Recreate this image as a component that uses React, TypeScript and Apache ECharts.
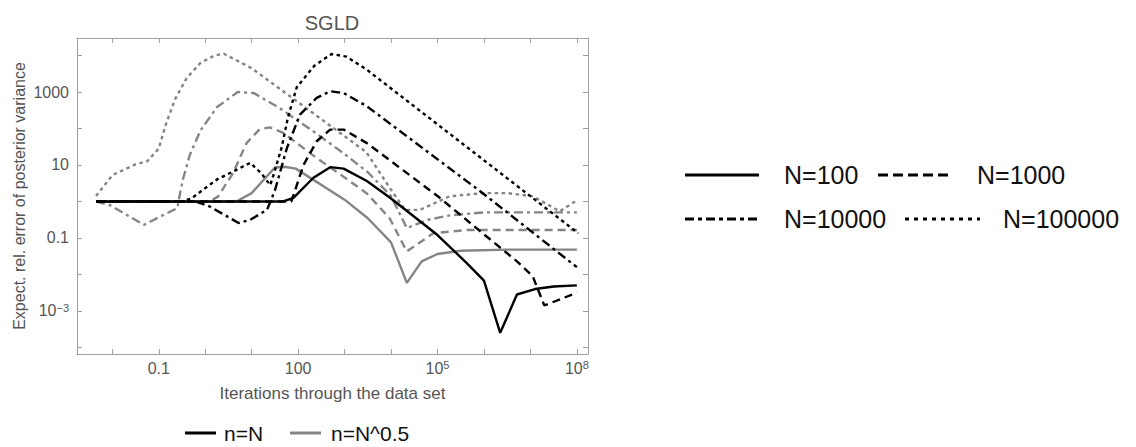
import React, { useEffect, useRef } from "react";
import * as echarts from "echarts";

// All points are [log10(iterations), log10(expected relative error)].
const blackN100 = [[-2.35,0],[1.68,0],[1.9,0.1],[2.33,0.65],[2.69,0.94],[2.98,0.9],[3.48,0.56],[4.0,0.08],[5.0,-0.92],[5.63,-1.69],[6.0,-2.17],[6.35,-3.6],[6.71,-2.55],[7.1,-2.4],[7.5,-2.33],[8.0,-2.3]];
const blackN1000 = [[-2.35,0],[1.85,0],[1.92,0.25],[2.12,1.01],[2.4,1.65],[2.69,1.97],[2.98,1.97],[3.48,1.6],[5.0,0.15],[6.0,-0.9],[6.71,-1.64],[7.05,-2.05],[7.3,-2.85],[8.0,-2.5]];
const blackN10000 = [[-2.35,0],[-0.2,0],[0.1,-0.14],[0.72,-0.59],[0.97,-0.5],[1.33,-0.23],[1.42,0.05],[1.5,0.3],[1.76,1.47],[2.04,2.38],[2.4,2.84],[2.69,3.02],[2.98,2.97],[3.48,2.61],[5.92,0.28],[8.0,-1.8]];
const blackN100000 = [[-2.35,0],[-0.5,0],[-0.3,0.08],[0.25,0.6],[0.6,0.82],[0.97,1.06],[1.2,0.78],[1.4,0.45],[1.5,0.85],[1.65,1.5],[1.78,2.3],[1.97,3.13],[2.35,3.72],[2.72,4.04],[3.04,3.97],[3.48,3.61],[8.03,-0.87]];

const grayN100 = [[-2.35,0],[0.67,0],[1.0,0.23],[1.5,0.93],[1.7,0.95],[1.95,0.9],[3.0,0.05],[3.5,-0.46],[4.0,-1.12],[4.34,-2.23],[4.66,-1.64],[5.0,-1.44],[5.5,-1.35],[6.5,-1.32],[8.0,-1.32]];
const grayN1000 = [[-2.35,0],[0.1,0],[0.28,0.14],[0.6,0.78],[0.89,1.6],[1.17,1.98],[1.39,2.03],[1.68,1.88],[2.4,1.19],[3.0,0.66],[3.48,0.22],[3.97,-0.46],[4.34,-1.37],[4.91,-0.87],[5.63,-0.78],[8.0,-0.78]];
const grayN10000 = [[-2.35,0],[-2.05,-0.1],[-1.32,-0.64],[-0.6,-0.18],[-0.54,0.24],[-0.47,0.65],[-0.33,1.28],[-0.1,1.95],[0.25,2.58],[0.7,3.0],[1.05,2.97],[1.6,2.56],[2.33,1.92],[3.0,1.3],[3.5,0.8],[4.0,0.15],[4.34,-0.73],[4.8,-0.5],[5.27,-0.38],[6.0,-0.3],[8.0,-0.3]];
const grayN100000 = [[-2.35,0.15],[-2.0,0.72],[-1.5,1.02],[-1.25,1.1],[-1.0,1.45],[-0.85,2.1],[-0.65,2.8],[-0.4,3.38],[-0.1,3.8],[0.2,4.0],[0.4,4.05],[1.0,3.65],[1.7,3.0],[3.47,1.35],[4.0,0.32],[4.3,-0.23],[4.62,-0.23],[5.26,0.14],[6.0,0.23],[6.5,0.23],[7.06,0.14],[7.63,-0.27],[8.0,0.03]];

const xTickDecades = [-2,-1,0,1,2,3,4,5,6,7,8];
const xLabelDecades = [-1,2,5,8];
const yTickDecades = [-4,-3,-2,-1,0,1,2,3,4];
const yLabelDecades = [-3,-1,1,3];

const sizeNames = ["N=100","N=1000","N=10000","N=100000"];
const schemeNames = ["n=N","n=N^0.5"];

const BLACK = "#000000";
const GRAY = "#858585";
const FRAME = "#a0a0a0";
const TXT = "#555555";
const FONT = "'Liberation Sans', Arial, sans-serif";

const dashes: any[] = ["solid", [8, 5], [9, 4, 3, 4], [3.5, 3.5]];
const legendDashes: any[] = [null, [10, 5], [9, 4, 4, 4], [4, 5]];

function fmtDecade(v: number, sup: string) {
  const r = Math.round(v);
  if (Math.abs(v - r) > 1e-6) return "";
  if (r >= -1 && r <= 3) {
    const s = Number(Math.pow(10, r).toPrecision(1)).toString();
    return `{a|${s}}`;
  }
  return `{a|10}{${sup}|${r < 0 ? "\u2212" + -r : r}}`;
}

export default function App() {
  const ref = useRef<HTMLDivElement>(null);
  useEffect(() => {
    if (!ref.current) return;
    const chart = echarts.init(ref.current, null, { renderer: "svg" });
    const xMin = -2.76, xMax = 8.24, yMin = -4.18, yMax = 4.48;

    const mk = (name: string, data: number[][], color: string, i: number) => ({
      name,
      type: "line",
      data,
      showSymbol: false,
      symbol: "none",
      smooth: false,
      lineStyle: { color, width: 2.4, type: dashes[i], cap: "butt" },
      z: color === BLACK ? 3 : 2,
    });

    const axisCommon = {
      type: "value",
      axisLine: { show: true, onZero: false, lineStyle: { color: FRAME, width: 1 } },
      splitLine: { show: false },
    };

    const rightRows = [
      { y: 175, items: [ { i: 0, x0: 685, x1: 759, tx: 784 }, { i: 1, x0: 878, x1: 952, tx: 977 } ] },
      { y: 219, items: [ { i: 2, x0: 685, x1: 759, tx: 784 }, { i: 3, x0: 905, x1: 980, tx: 1003 } ] },
    ];
    const graphic: any[] = [
      { type: "text", x: 332, y: 23, style: { text: "SGLD", align: "center", verticalAlign: "middle", fill: TXT, font: `20px ${FONT}` } },
    ];
    rightRows.forEach((row) => {
      row.items.forEach((it) => {
        graphic.push({
          type: "line",
          shape: { x1: it.x0, y1: row.y, x2: it.x1, y2: row.y },
          style: { stroke: BLACK, lineWidth: 3, lineDash: legendDashes[it.i] || undefined },
        });
        graphic.push({
          type: "text", x: it.tx, y: row.y,
          style: { text: sizeNames[it.i], verticalAlign: "middle", fill: "#111", font: `25px ${FONT}` },
        });
      });
    });
    const bottom = [
      { x0: 185, x1: 216, tx: 224, color: BLACK, label: schemeNames[0] },
      { x0: 290, x1: 321, tx: 331, color: GRAY, label: schemeNames[1] },
    ];
    bottom.forEach((b) => {
      graphic.push({ type: "line", shape: { x1: b.x0, y1: 433, x2: b.x1, y2: 433 }, style: { stroke: b.color, lineWidth: 3 } });
      graphic.push({ type: "text", x: b.tx, y: 433, style: { text: b.label, verticalAlign: "middle", fill: "#111", font: `21px ${FONT}` } });
    });

    chart.setOption({
      animation: false,
      backgroundColor: "#ffffff",
      grid: { left: 77, top: 38, right: 548, bottom: 93, containLabel: false },
      xAxis: [
        {
          ...axisCommon,
          position: "bottom",
          min: xMin, max: xMax,
          name: "Iterations through the data set",
          nameLocation: "middle",
          nameGap: 31,
          nameTextStyle: { color: TXT, fontSize: 17, fontFamily: FONT },
          axisTick: { show: true, inside: true, length: 5, customValues: xTickDecades, lineStyle: { color: FRAME } },
          axisLabel: {
            show: true, margin: 5, customValues: xLabelDecades,
            formatter: (v: number) => fmtDecade(v, "s"),
            rich: {
              a: { fontSize: 16, fontFamily: FONT, color: TXT, padding: [4, 0, 0, 0], verticalAlign: "bottom", lineHeight: 17 },
              s: { fontSize: 11, fontFamily: FONT, color: TXT, verticalAlign: "top", lineHeight: 11 },
            },
          },
        },
        {
          ...axisCommon,
          position: "top",
          min: xMin, max: xMax,
          axisTick: { show: true, inside: true, length: 5, customValues: xTickDecades, lineStyle: { color: FRAME } },
          axisLabel: { show: false },
        },
      ],
      yAxis: [
        {
          ...axisCommon,
          position: "left",
          min: yMin, max: yMax,
          name: "Expect. rel. error of posterior variance",
          nameLocation: "middle",
          nameGap: 50,
          nameTextStyle: { color: TXT, fontSize: 16, fontFamily: FONT },
          axisTick: { show: true, inside: true, length: 5, customValues: yTickDecades, lineStyle: { color: FRAME } },
          axisLabel: {
            show: true, margin: 8, customValues: yLabelDecades,
            formatter: (v: number) => fmtDecade(v, "s"),
            rich: {
              a: { fontSize: 16, fontFamily: FONT, color: TXT, padding: [4, 0, 4, 0], lineHeight: 17 },
              s: { fontSize: 11, fontFamily: FONT, color: TXT, verticalAlign: "top", lineHeight: 11 },
            },
          },
        },
        {
          ...axisCommon,
          position: "right",
          min: yMin, max: yMax,
          axisTick: { show: true, inside: true, length: 5, customValues: yTickDecades, lineStyle: { color: FRAME } },
          axisLabel: { show: false },
        },
      ],
      series: [
        mk("gray N=100", grayN100, GRAY, 0),
        mk("gray N=1000", grayN1000, GRAY, 1),
        mk("gray N=10000", grayN10000, GRAY, 2),
        mk("gray N=100000", grayN100000, GRAY, 3),
        mk("N=100", blackN100, BLACK, 0),
        mk("N=1000", blackN1000, BLACK, 1),
        mk("N=10000", blackN10000, BLACK, 2),
        mk("N=100000", blackN100000, BLACK, 3),
      ],
      graphic,
    });
    return () => chart.dispose();
  }, []);
  return <div ref={ref} style={{ position: "fixed", left: 0, top: 0, width: 1136, height: 447 }} />;
}
